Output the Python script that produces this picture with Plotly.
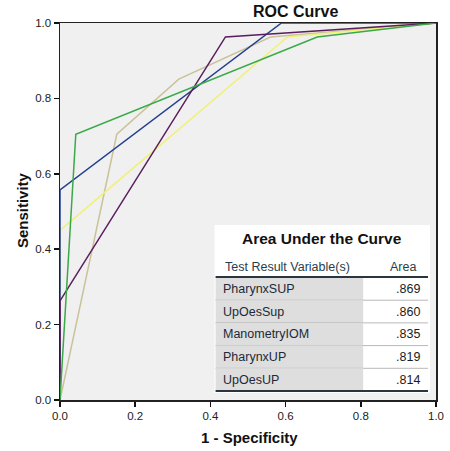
import plotly.graph_objects as go

# ROC curve data (1 - specificity, sensitivity)
series_names = ["ManometryIOM", "PharynxUP", "UpOesSup", "UpOesUP", "PharynxSUP"]
series_colors = ["#c9c29a", "#f0f07a", "#243f8f", "#5a1e5e", "#3aa948"]
fpr = [
    [0, 0.151, 0.316, 0.56, 1],
    [0, 0, 0.605, 1],
    [0, 0, 0.589, 1],
    [0, 0, 0.44, 1],
    [0, 0.042, 0.684, 1],
]
tpr = [
    [0, 0.705, 0.851, 0.963, 1],
    [0, 0.45, 0.963, 1],
    [0, 0.557, 1, 1],
    [0, 0.263, 0.963, 1],
    [0, 0.705, 0.963, 1],
]

# AUC table
table_vars = ["PharynxSUP", "UpOesSup", "ManometryIOM", "PharynxUP", "UpOesUP"]
table_areas = [".869", ".860", ".835", ".819", ".814"]

ticks = [0.0, 0.2, 0.4, 0.6, 0.8, 1.0]
tick_text = ["0.0", "0.2", "0.4", "0.6", "0.8", "1.0"]

FONT = "Liberation Sans, Arial, sans-serif"

fig = go.Figure()
for name, col, xs, ys in zip(series_names, series_colors, fpr, tpr):
    fig.add_trace(go.Scatter(x=xs, y=ys, mode="lines", name=name,
                             line=dict(color=col, width=1.5), showlegend=False,
                             hoverinfo="skip"))

# pixel -> data helpers (plot area 59..436 x, 23..400 y in the reference)
def dx(px):
    return (px - 59) / 377.0

def dy(py):
    return (400 - py) / 377.0

shapes = []
annotations = []
# white table box
shapes.append(dict(type="rect", xref="x", yref="y", x0=dx(214), x1=dx(430), y0=dy(393), y1=dy(225),
                   fillcolor="white", line=dict(width=0), layer="above"))
row_h = 22.7
row_top = 277.5
for i, (v, a) in enumerate(zip(table_vars, table_areas)):
    t = row_top + i * row_h
    b = t + row_h
    shapes.append(dict(type="rect", xref="x", yref="y", x0=dx(215), x1=dx(363), y0=dy(b), y1=dy(t),
                       fillcolor="#dedede", line=dict(width=0), layer="above"))
    if i < len(table_vars) - 1:
        shapes.append(dict(type="line", xref="x", yref="y", x0=dx(215), x1=dx(428), y0=dy(b), y1=dy(b),
                           line=dict(color="#b8b8b8", width=1), layer="above"))
    cy = dy((t + b) / 2)
    annotations.append(dict(x=dx(220), y=cy, xref="x", yref="y", text=v, showarrow=False,
                            xanchor="left", yanchor="middle",
                            font=dict(family=FONT, size=12.5, color="#1c2a38")))
    annotations.append(dict(x=dx(422), y=cy, xref="x", yref="y", text=a, showarrow=False,
                            xanchor="right", yanchor="middle",
                            font=dict(family=FONT, size=12.5, color="#1c1c1c")))
# header underline and bottom line
shapes.append(dict(type="line", xref="x", yref="y", x0=dx(215), x1=dx(428), y0=dy(277), y1=dy(277),
                   line=dict(color="#2a3540", width=2), layer="above"))
shapes.append(dict(type="line", xref="x", yref="y", x0=dx(215), x1=dx(428), y0=dy(391), y1=dy(391),
                   line=dict(color="#2a3540", width=2), layer="above"))
annotations.append(dict(x=dx(322), y=dy(238), xref="x", yref="y", text="<b>Area Under the Curve</b>",
                        showarrow=False, xanchor="center", yanchor="middle",
                        font=dict(family=FONT, size=15.5, color="#111")))
annotations.append(dict(x=dx(222), y=dy(267), xref="x", yref="y", text="Test Result Variable(s)",
                        showarrow=False, xanchor="left", yanchor="middle",
                        font=dict(family=FONT, size=12.5, color="#2a3d4d")))
annotations.append(dict(x=dx(403), y=dy(267), xref="x", yref="y", text="Area",
                        showarrow=False, xanchor="center", yanchor="middle",
                        font=dict(family=FONT, size=12.5, color="#2a3d4d")))
# titles
annotations.append(dict(x=dx(295), y=dy(11), xref="paper", yref="paper", text="<b>ROC Curve</b>",
                        showarrow=False, xanchor="center", yanchor="middle",
                        font=dict(family=FONT, size=16, color="#111")))
annotations.append(dict(x=dx(249), y=dy(437), xref="paper", yref="paper", text="<b>1 - Specificity</b>",
                        showarrow=False, xanchor="center", yanchor="middle",
                        font=dict(family=FONT, size=15, color="#111")))
annotations.append(dict(x=dx(21), y=dy(210), xref="paper", yref="paper", text="<b>Sensitivity</b>",
                        showarrow=False, xanchor="center", yanchor="middle", textangle=-90,
                        font=dict(family=FONT, size=15, color="#111")))

axis_common = dict(range=[0, 1], tickvals=ticks, ticktext=tick_text, ticks="outside", ticklen=5,
                   tickwidth=1.5, tickcolor="#111", showline=True, linecolor="#222", linewidth=1.5,
                   mirror=True, showgrid=False, zeroline=False,
                   tickfont=dict(family=FONT, size=11.5, color="#222"))

# the captured page comes out ~1.3% narrower horizontally, so lay out on a 456px-wide canvas
W = 456
sx = W / 450.0
fig.update_layout(
    width=W, height=451,
    margin=dict(l=59 * sx, r=14 * sx, t=23, b=51),
    paper_bgcolor="white", plot_bgcolor="#f0f0f0",
    xaxis=axis_common, yaxis=axis_common,
    shapes=shapes, annotations=annotations,
)
fig.write_html(
    "out.html",
    config={"displayModeBar": False, "staticPlot": True},
    post_script=(
        "document.documentElement.style.margin='0';"
        "document.documentElement.style.overflow='hidden';"
        "document.body.style.margin='0';document.body.style.overflow='hidden';"
        "var d=document.getElementsByClassName('plotly-graph-div')[0];"
        "if(d){d.style.display='block';d.parentNode.style.lineHeight='0';}"
    ),
)
